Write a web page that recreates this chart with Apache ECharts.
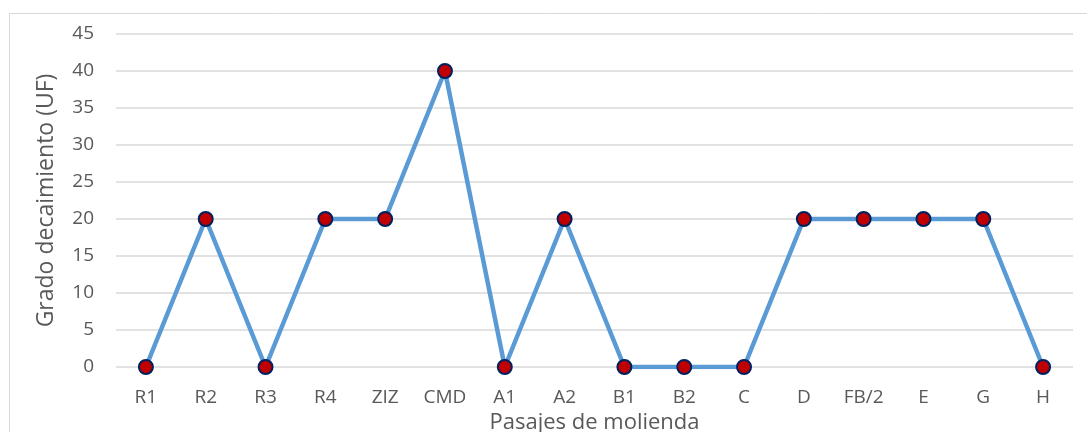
<!DOCTYPE html>
<html><head><meta charset="utf-8">
<script src="https://cdn.jsdelivr.net/npm/echarts@6/dist/echarts.min.js"></script>
<style>html,body{margin:0;padding:0;background:#fff}#c{width:1087px;height:432px}</style>
</head><body><div id="c"></div>
<script>
const categories = ['R1','R2','R3','R4','ZIZ','CMD','A1','A2','B1','B2','C','D','FB/2','E','G','H'];
const values = [0,20,0,20,20,40,0,20,0,0,0,20,20,20,20,0];
const yTicks = {min:0, max:45, interval:5};
const FONT = "'Open Sans', 'DejaVu Sans', sans-serif";
const chart = echarts.init(document.getElementById('c'), null, {renderer:'canvas'});
chart.setOption({
  animation:false,
  graphic:[{type:'rect', shape:{x:9.5,y:13.5,width:1200,height:600}, style:{fill:'none', stroke:'#d9d9d9', lineWidth:1}, z:-1}],
  grid:{left:116, right:14, top:34, bottom:65, outerBoundsMode:'none', containLabel:false},
  xAxis:{type:'category', data:categories, boundaryGap:true,
    axisLine:{show:false}, axisTick:{show:false},
    axisLabel:{color:'#595959', fontSize:19, fontFamily:FONT, margin:21},
    name:'Pasajes de molienda', nameLocation:'middle', nameGap:42,
    nameTextStyle:{color:'#595959', fontSize:22, fontFamily:FONT}},
  yAxis:{type:'value', min:yTicks.min, max:yTicks.max, interval:yTicks.interval,
    axisLine:{show:false}, axisTick:{show:false},
    splitLine:{lineStyle:{color:'#d9d9d9', width:1.5}},
    axisLabel:{color:'#595959', fontSize:19, fontFamily:FONT, margin:22},
    name:'Grado decaimiento (UF)', nameLocation:'middle', nameGap:58,
    nameTextStyle:{color:'#595959', fontSize:23, fontFamily:FONT}},
  series:[{type:'line', data:values, symbol:'circle', symbolSize:14,
    lineStyle:{color:'#5B9BD5', width:4.5},
    itemStyle:{color:'#C00000', borderColor:'#002060', borderWidth:2}}]
});
</script></body></html>
